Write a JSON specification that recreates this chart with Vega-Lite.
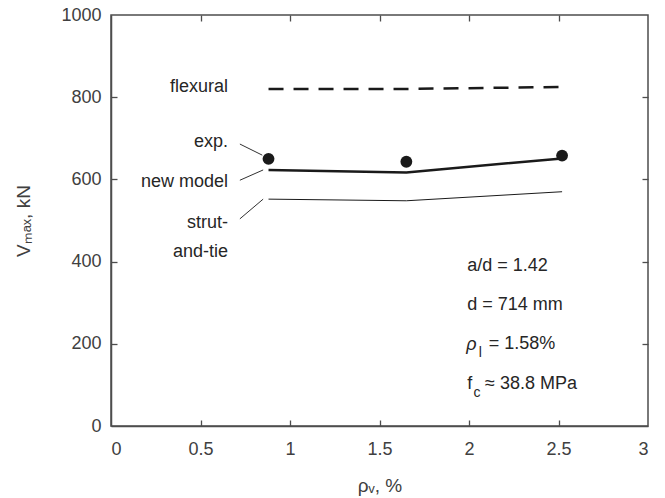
{
  "$schema": "https://vega.github.io/schema/vega-lite/v6.json",
  "width": 537,
  "height": 411,
  "autosize": "none",
  "padding": {"left": 111, "top": 15, "right": 17, "bottom": 72},
  "background": "white",
  "config": {
    "view": {"stroke": "#4d4d4d", "strokeWidth": 1.5},
    "font": "Liberation Sans",
    "axis": {
      "domainColor": "#4d4d4d", "domainWidth": 1.5, "tickColor": "#4d4d4d", "tickWidth": 1.3,
      "labelColor": "#404040", "labelFont": "Liberation Sans", "labelFontSize": 18,
      "titleColor": "#404040", "titleFont": "Liberation Sans", "titleFontSize": 19, "titleFontWeight": "normal",
      "grid": false
    }
  },
  "datasets": {
    "series": [
      {"series": "exp.", "rho_v": 0.88, "V": 650},
      {"series": "exp.", "rho_v": 1.65, "V": 643},
      {"series": "exp.", "rho_v": 2.52, "V": 658},
      {"series": "new model", "rho_v": 0.88, "V": 623},
      {"series": "new model", "rho_v": 1.65, "V": 617},
      {"series": "new model", "rho_v": 2.52, "V": 651},
      {"series": "strut-and-tie", "rho_v": 0.88, "V": 552},
      {"series": "strut-and-tie", "rho_v": 1.65, "V": 548},
      {"series": "strut-and-tie", "rho_v": 2.52, "V": 570},
      {"series": "flexural", "rho_v": 0.88, "V": 820},
      {"series": "flexural", "rho_v": 1.65, "V": 820},
      {"series": "flexural", "rho_v": 2.52, "V": 825}
    ],
    "leaders": [
      {"x": 0.72, "y": 686, "x2": 0.845, "y2": 659},
      {"x": 0.72, "y": 598, "x2": 0.85, "y2": 623},
      {"x": 0.72, "y": 504, "x2": 0.85, "y2": 552}
    ],
    "rightLabels": [
      {"text": "flexural", "x": 0.654, "y": 825},
      {"text": "exp.", "x": 0.654, "y": 692},
      {"text": "new model", "x": 0.654, "y": 594},
      {"text": "strut-", "x": 0.654, "y": 494},
      {"text": "and-tie", "x": 0.654, "y": 424}
    ],
    "leftLabels": [
      {"text": "a/d = 1.42", "x": 1.99, "y": 390},
      {"text": "d = 714 mm", "x": 1.99, "y": 294},
      {"text": "= 1.58%", "x": 2.11, "y": 199},
      {"text": "f", "x": 1.99, "y": 102},
      {"text": "≈ 38.8 MPa", "x": 2.09, "y": 102}
    ],
    "greekLabels": [
      {"text": "ρ", "x": 1.985, "y": 197}
    ],
    "subLabels": [
      {"text": "l", "x": 2.055, "y": 199},
      {"text": "c", "x": 2.025, "y": 102}
    ]
  },
  "layer": [
    {
      "data": {"name": "series"},
      "transform": [{"filter": "datum.series === 'flexural'"}],
      "mark": {"type": "line", "color": "#1a1a1a", "strokeWidth": 2.5, "strokeDash": [15, 10]},
      "encoding": {
        "x": {"field": "rho_v", "type": "quantitative", "scale": {"domain": [0, 3], "nice": false},
              "axis": {"values": [0, 0.5, 1, 1.5, 2, 2.5, 3], "format": "~g", "ticks": false, "title": "ρᵥ, %", "labelPadding": 14, "titlePadding": 18}},
        "y": {"field": "V", "type": "quantitative", "scale": {"domain": [0, 1000], "nice": false},
              "axis": {"values": [0, 200, 400, 600, 800, 1000], "format": "d", "ticks": false, "title": "Vₘₐₓ, kN", "labelPadding": 10, "titlePadding": 27}}
      }
    },
    {
      "data": {"name": "series"},
      "transform": [{"filter": "datum.series === 'new model'"}],
      "mark": {"type": "line", "color": "#1a1a1a", "strokeWidth": 2.5},
      "encoding": {
        "x": {"field": "rho_v", "type": "quantitative", "axis": {"orient": "top", "values": [0.5, 1, 1.5, 2, 2.5], "offset": -6, "ticks": true, "tickSize": 6, "domain": false, "labels": false, "title": null}},
        "y": {"field": "V", "type": "quantitative", "axis": {"orient": "right", "values": [200, 400, 600, 800], "offset": -6, "ticks": true, "tickSize": 6, "domain": false, "labels": false, "title": null}}
      }
    },
    {
      "data": {"name": "series"},
      "transform": [{"filter": "datum.series === 'strut-and-tie'"}],
      "mark": {"type": "line", "color": "#1a1a1a", "strokeWidth": 1},
      "encoding": {
        "x": {"field": "rho_v", "type": "quantitative", "axis": {"orient": "bottom", "values": [0.5, 1, 1.5, 2, 2.5], "offset": -6, "ticks": true, "tickSize": 6, "domain": false, "labels": false, "title": null}},
        "y": {"field": "V", "type": "quantitative", "axis": {"orient": "left", "values": [200, 400, 600, 800], "offset": -6, "ticks": true, "tickSize": 6, "domain": false, "labels": false, "title": null}}
      }
    },
    {
      "data": {"name": "series"},
      "transform": [{"filter": "datum.series === 'exp.'"}],
      "mark": {"type": "point", "filled": true, "color": "#1a1a1a", "opacity": 1, "size": 140},
      "encoding": {
        "x": {"field": "rho_v", "type": "quantitative", "axis": null},
        "y": {"field": "V", "type": "quantitative", "axis": null}
      }
    },
    {
      "data": {"name": "leaders"},
      "mark": {"type": "rule", "color": "#1a1a1a", "strokeWidth": 0.9},
      "encoding": {
        "x": {"field": "x", "type": "quantitative", "axis": null},
        "y": {"field": "y", "type": "quantitative", "axis": null},
        "x2": {"field": "x2"},
        "y2": {"field": "y2"}
      }
    },
    {
      "data": {"name": "rightLabels"},
      "mark": {"type": "text", "align": "right", "baseline": "middle", "fontSize": 18, "color": "#262626", "font": "Liberation Sans"},
      "encoding": {
        "x": {"field": "x", "type": "quantitative", "axis": null},
        "y": {"field": "y", "type": "quantitative", "axis": null},
        "text": {"field": "text"}
      }
    },
    {
      "data": {"name": "leftLabels"},
      "mark": {"type": "text", "align": "left", "baseline": "middle", "fontSize": 18, "color": "#262626", "font": "Liberation Sans"},
      "encoding": {
        "x": {"field": "x", "type": "quantitative", "axis": null},
        "y": {"field": "y", "type": "quantitative", "axis": null},
        "text": {"field": "text"}
      }
    },
    {
      "data": {"name": "greekLabels"},
      "mark": {"type": "text", "align": "left", "baseline": "middle", "fontSize": 18, "fontStyle": "italic", "color": "#262626", "font": "Liberation Sans"},
      "encoding": {
        "x": {"field": "x", "type": "quantitative", "axis": null},
        "y": {"field": "y", "type": "quantitative", "axis": null},
        "text": {"field": "text"}
      }
    },
    {
      "data": {"name": "subLabels"},
      "mark": {"type": "text", "align": "left", "baseline": "middle", "fontSize": 14, "dy": 9, "color": "#262626", "font": "Liberation Sans"},
      "encoding": {
        "x": {"field": "x", "type": "quantitative", "axis": null},
        "y": {"field": "y", "type": "quantitative", "axis": null},
        "text": {"field": "text"}
      }
    }
  ],
  "resolve": {"axis": {"x": "independent", "y": "independent"}}
}
